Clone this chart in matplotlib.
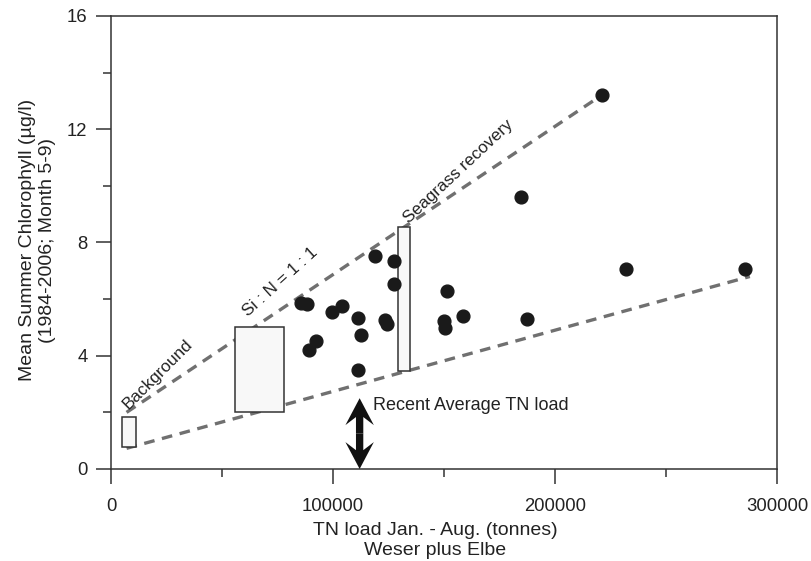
import matplotlib.pyplot as plt
from matplotlib.patches import Rectangle
from matplotlib.ticker import MultipleLocator

plt.rcParams['font.family'] = ['Liberation Sans', 'DejaVu Sans']

# observed years: TN load (tonnes) vs mean summer chlorophyll
tn_load = [118900, 127600, 127500, 85400, 88400, 99700, 103900, 111300, 112600,
           123400, 124200, 92300, 89300, 111400, 151500, 149800, 150400, 158400,
           187200, 184500, 221000, 232000, 285600]
chl = [7.54, 7.35, 6.53, 5.85, 5.82, 5.54, 5.76, 5.34, 4.72,
       5.27, 5.12, 4.52, 4.20, 3.50, 6.27, 5.23, 4.99, 5.40,
       5.30, 9.59, 13.2, 7.05, 7.05]

# envelope lines
upper_x = [7000, 221000]
upper_y = [2.0, 13.2]
lower_x = [7000, 287800]
lower_y = [0.73, 6.8]

# target boxes: (x0, x1, y0, y1)
boxes = {
    'Background': (4800, 11100, 0.79, 1.85),
    'Si : N = 1 : 1': (55900, 78000, 2.0, 5.0),
    'Seagrass recovery': (129100, 134700, 3.47, 8.54),
}
box_labels = {
    'Background': (9000, 2.0, 45),
    'Si : N = 1 : 1': (62500, 5.3, 42),
    'Seagrass recovery': (135000, 8.6, 43),
}

recent_tn = 112000
recent_top = 2.5

fig = plt.figure(figsize=(8.11, 5.61), dpi=100)
ax = fig.add_axes([0.1369, 0.164, 0.8211, 0.8075])

ax.plot(upper_x, upper_y, ls=(0, (3.2, 2.3)), color='#707070', lw=2.4, zorder=2)
ax.plot(lower_x, lower_y, ls=(0, (3.2, 2.3)), color='#707070', lw=2.4, zorder=2)

for name, (x0, x1, y0, y1) in boxes.items():
    ax.add_patch(Rectangle((x0, y0), x1 - x0, y1 - y0, facecolor='#f8f8f8',
                           edgecolor='#333333', lw=1.1, zorder=3))
    tx, ty, rot = box_labels[name]
    ax.text(tx, ty, name, rotation=rot, rotation_mode='anchor', ha='left',
            va='bottom', fontsize=12.3, color='#222222', zorder=4)

ax.plot(tn_load, chl, 'o', color='#1a1a1a', ms=9.2, zorder=5)

# double-headed arrow: two vertical halves from the middle
# (vertical only, so width is in x units and head length in y units)
mid = recent_top / 2
for dy in (mid, -mid):
    ax.arrow(recent_tn, mid, 0, dy, width=3300, head_width=12800, head_length=0.95,
             overhang=0.3, length_includes_head=True, color='#111111', lw=0,
             zorder=6)
ax.text(118000, 2.23, 'Recent Average TN load', fontsize=13, color='#222222',
        va='center', ha='left')

ax.set_xlim(0, 300000)
ax.set_ylim(0, 16)
ax.xaxis.set_major_locator(MultipleLocator(100000))
ax.xaxis.set_minor_locator(MultipleLocator(50000))
ax.yaxis.set_major_locator(MultipleLocator(4))
ax.yaxis.set_minor_locator(MultipleLocator(2))
ax.tick_params(which='major', length=11, width=1.1, color='#333333', labelsize=13.3,
               labelcolor='#222222')
ax.tick_params(axis='x', which='major', pad=10)
ax.tick_params(axis='y', which='major', pad=6)
ax.tick_params(which='minor', length=5.5, width=1.1, color='#333333')
for s in ax.spines.values():
    s.set_color('#333333')
    s.set_linewidth(1.1)

ax.set_xlabel('TN load Jan. - Aug. (tonnes)\nWeser plus Elbe', fontsize=14,
              color='#222222', linespacing=1.2)
ax.set_ylabel('Mean Summer Chlorophyll (µg/l)\n(1984-2006; Month 5-9)', fontsize=14,
              color='#222222', linespacing=1.2)
ax.xaxis.set_label_coords(0.4865, -0.118)
ax.yaxis.set_label_coords(-0.083, 0.505)

fig.savefig('out.png', dpi=100)
